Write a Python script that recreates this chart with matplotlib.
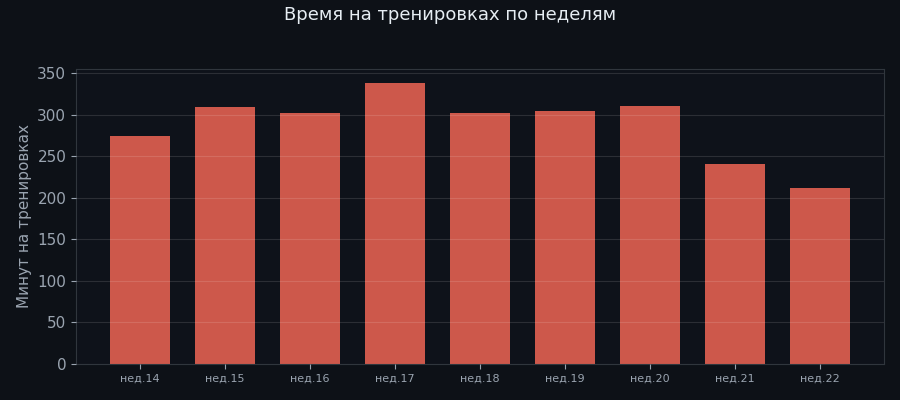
import matplotlib
matplotlib.use("Agg")
import matplotlib.pyplot as plt
import numpy as np

weeks = ["нед.14", "нед.15", "нед.16", "нед.17", "нед.18", "нед.19", "нед.20", "нед.21", "нед.22"]
minutes = [274, 309, 302, 338, 302, 304, 310, 241, 212]

bg = "#0d1117"
fig = plt.figure(figsize=(9, 4), dpi=100, facecolor=bg)
ax = fig.add_axes([76/900, 1-364/400, 808/900, 295/400], facecolor="#0e121a")

x = np.arange(len(weeks))
ax.bar(x, minutes, width=0.7, color="#cd584b", zorder=2)
ax.set_xticks(x)
ax.set_xticklabels(weeks, fontsize=8, color="#9aa4b0")
ax.set_xlim(-0.75, len(weeks) - 0.25)
ax.set_ylim(0, 355)
ax.set_yticks(range(0, 351, 50))
ax.tick_params(axis="y", colors="#9aa4b0", labelsize=11)
ax.tick_params(axis="x", colors="#9aa4b0")
ax.set_ylabel("Минут на тренировках", color="#9aa4b0", fontsize=11)
ax.grid(axis="y", color="#ffffff", alpha=0.12, linewidth=0.8, zorder=3)
ax.set_axisbelow(False)
for s in ax.spines.values():
    s.set_color("#30363d")
fig.suptitle("Время на тренировках по неделям", color="#e6edf3", fontsize=13, y=0.985)
fig.savefig("out.png", facecolor=bg)
